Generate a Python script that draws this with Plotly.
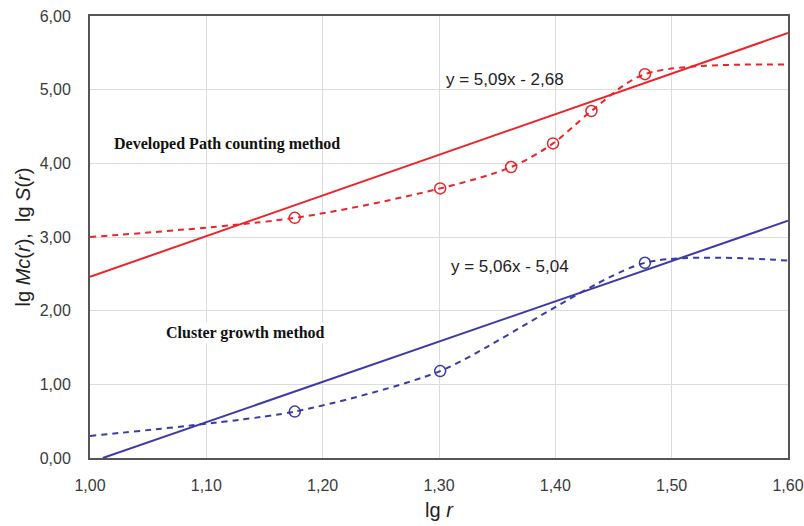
import plotly.graph_objects as go

# data
lg_r_red = [1.000, 1.176, 1.301, 1.362, 1.398, 1.431, 1.477, 1.600]
lg_S_red = [3.00, 3.26, 3.66, 3.95, 4.27, 4.71, 5.21, 5.34]
red_marker_x = [1.176, 1.301, 1.362, 1.398, 1.431, 1.477]
red_marker_y = [3.26, 3.66, 3.95, 4.27, 4.71, 5.21]

lg_r_blue = [1.000, 1.176, 1.301, 1.477, 1.600]
lg_M_blue = [0.30, 0.63, 1.18, 2.65, 2.68]
blue_marker_x = [1.176, 1.301, 1.477]
blue_marker_y = [0.63, 1.18, 2.65]

red_fit_x = [1.000, 1.600]
red_fit_y = [2.46, 5.77]
blue_fit_x = [1.011, 1.600]
blue_fit_y = [0.00, 3.22]

x_ticks = [1.0, 1.1, 1.2, 1.3, 1.4, 1.5, 1.6]
y_ticks = [0, 1, 2, 3, 4, 5, 6]

RED = "#ec2329"
BLUE = "#3b3ba8"

fig = go.Figure()
fig.add_trace(go.Scatter(x=lg_r_red, y=lg_S_red, mode="lines",
                         line=dict(color=RED, width=2, dash="6px,5px", shape="spline", smoothing=0.9),
                         showlegend=False))
fig.add_trace(go.Scatter(x=red_marker_x, y=red_marker_y, mode="markers",
                         marker=dict(symbol="circle-open", size=11, color=RED, line=dict(width=1.5)),
                         showlegend=False))
fig.add_trace(go.Scatter(x=lg_r_blue, y=lg_M_blue, mode="lines",
                         line=dict(color=BLUE, width=2, dash="6px,5px", shape="spline", smoothing=0.7),
                         showlegend=False))
fig.add_trace(go.Scatter(x=blue_marker_x, y=blue_marker_y, mode="markers",
                         marker=dict(symbol="circle-open", size=11, color=BLUE, line=dict(width=1.5)),
                         showlegend=False))
fig.add_trace(go.Scatter(x=red_fit_x, y=red_fit_y, mode="lines",
                         line=dict(color=RED, width=2), showlegend=False))
fig.add_trace(go.Scatter(x=blue_fit_x, y=blue_fit_y, mode="lines",
                         line=dict(color=BLUE, width=2), showlegend=False))

fig.add_annotation(x=1.304, y=5.14, xref="x", yref="y", text="y = 5,09x - 2,68", showarrow=False,
                   xanchor="left", font=dict(family="Liberation Sans, Arial", size=17, color="#222"))
fig.add_annotation(x=1.309, y=2.60, xref="x", yref="y", text="y = 5,06x - 5,04", showarrow=False,
                   xanchor="left", font=dict(family="Liberation Sans, Arial", size=17, color="#222"))
fig.add_annotation(x=1.019, y=4.26, xref="x", yref="y", text="<b>Developed Path counting method</b>",
                   showarrow=False, xanchor="left",
                   font=dict(family="Liberation Serif, Times New Roman", size=16, color="#111"))
fig.add_annotation(x=1.064, y=1.70, xref="x", yref="y", text="<b>Cluster growth method</b>",
                   showarrow=False, xanchor="left", bgcolor="white",
                   font=dict(family="Liberation Serif, Times New Roman", size=16, color="#111"))

fig.update_layout(
    width=804, height=526,
    margin=dict(l=90, r=16, t=16, b=68),
    paper_bgcolor="white", plot_bgcolor="white",
    separators=",.",
    font=dict(family="Liberation Sans, Arial", size=16, color="#3a3a3a"),
    xaxis=dict(range=[1.0, 1.6], tickvals=x_ticks, tickformat=".2f", automargin=False,
               showgrid=True, gridcolor="#dcdcdc", gridwidth=1,
               showline=True, linecolor="#555", linewidth=2, mirror=True,
               ticks="", zeroline=False, ticklabelstandoff=12,
               title=dict(text="lg <i>r</i>", font=dict(size=20, color="#222"), standoff=10)),
    yaxis=dict(range=[0, 6], tickvals=y_ticks, tickformat=".2f", automargin=False,
               showgrid=True, gridcolor="#dcdcdc", gridwidth=1,
               showline=True, linecolor="#555", linewidth=2, mirror=True,
               ticks="", zeroline=False, ticklabelstandoff=14,
               title=dict(text="lg <i>Mc</i>(<i>r</i>),  lg <i>S</i>(<i>r</i>)",
                          font=dict(size=20, color="#222"), standoff=4)),
)

fig.write_html("out.html")
